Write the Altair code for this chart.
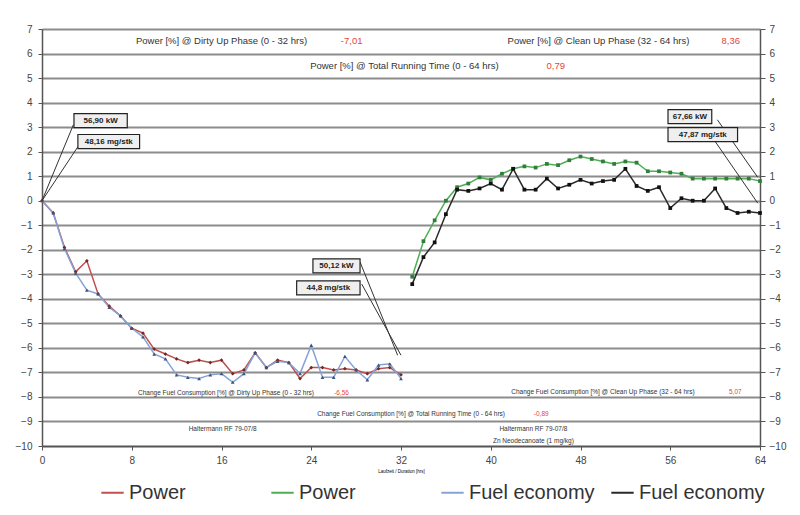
import altair as alt
import pandas as pd

# ---- data ----
hours_dirty = list(range(0, 33))
power_dirty = [0, -0.5, -1.9, -2.9, -2.45, -3.8, -4.3, -4.7, -5.2, -5.4, -6.05, -6.25,
               -6.45, -6.6, -6.5, -6.6, -6.5, -7.05, -6.9, -6.2, -6.8, -6.5, -6.6, -7.25,
               -6.8, -6.8, -6.9, -6.85, -6.9, -7.05, -6.85, -6.8, -7.1]
fuel_dirty = [0, -0.5, -1.95, -2.95, -3.65, -3.8, -4.35, -4.7, -5.2, -5.55, -6.25, -6.45,
              -7.1, -7.2, -7.25, -7.1, -7.05, -7.4, -7.05, -6.2, -6.8, -6.55, -6.6, -7.05,
              -5.9, -7.2, -7.2, -6.35, -6.9, -7.3, -6.7, -6.65, -7.25]
hours_clean = list(range(33, 65))
power_clean = [-3.1, -1.65, -0.8, 0.0, 0.55, 0.7, 0.95, 0.85, 1.1, 1.3, 1.4, 1.35, 1.5,
               1.45, 1.65, 1.8, 1.7, 1.6, 1.5, 1.6, 1.55, 1.2, 1.2, 1.15, 1.1, 0.9, 0.9,
               0.9, 0.9, 0.9, 0.9, 0.8]
fuel_clean = [-3.4, -2.3, -1.7, -0.55, 0.45, 0.4, 0.5, 0.7, 0.45, 1.3, 0.45, 0.45, 0.9,
              0.5, 0.65, 0.85, 0.7, 0.8, 0.85, 1.3, 0.6, 0.4, 0.55, -0.3, 0.1, 0.0, 0.0,
              0.5, -0.3, -0.5, -0.45, -0.5]

series_keys = ["power_dirty", "power_clean", "fuel_dirty", "fuel_clean"]
line_colors = ["#c0504d", "#4fae55", "#86a3d8", "#2a2a2a"]
marker_colors = ["#6b2b28", "#2f7f3a", "#3f5279", "#111111"]
marker_shapes = ["diamond", "square", "triangle-up", "square"]

x_ticks = [0, 8, 16, 24, 32, 40, 48, 56, 64]
y_ticks = list(range(-10, 8))

# annotations
top_texts = ["Power [%] @ Dirty Up Phase (0 - 32 hrs)", "Power [%] @ Clean Up Phase (32 - 64 hrs)",
             "Power [%] @ Total Running Time (0 - 64 hrs)"]
top_text_x = [16, 49.6, 32.3]
top_text_y = [6.5, 6.5, 5.5]
top_vals = ["-7,01", "8,36", "0,79"]
top_val_x = [27.6, 61.4, 45.8]

bot_texts = ["Change Fuel Consumption [%] @ Dirty Up Phase (0 - 32 hrs)",
             "Change Fuel Consumption [%] @ Clean Up Phase (32 - 64 hrs)",
             "Change Fuel Consumption [%] @ Total Running Time (0 - 64 hrs)"]
bot_text_x = [16.4, 50.0, 32.9]
bot_text_y = [-7.85, -7.8, -8.7]
bot_vals = ["-6,56", "5,07", "-0,89"]
bot_val_x = [26.7, 61.8, 44.5]

note_texts = ["Haltermann RF 79-07/8", "Haltermann RF 79-07/8", "Zn Neodecanoate (1 mg/kg)"]
note_x = [16.1, 43.8, 43.8]
note_y = [-9.3, -9.3, -9.8]

box_texts = ["56,90 kW", "48,16 mg/stk", "50,12 kW", "44,8 mg/stk", "67,66 kW", "47,87 mg/stk"]
box_x1 = [2.85, 3.2, 24.15, 22.7, 55.8, 55.8]
box_x2 = [7.6, 8.7, 28.35, 28.35, 59.7, 62.0]
box_y1 = [3.55, 2.7, -2.37, -3.27, 3.71, 2.98]
box_y2 = [2.98, 2.12, -2.94, -3.84, 3.14, 2.41]

lead_x1 = [2.8, 3.2, 28.35, 28.5, 60.2, 59.8]
lead_y1 = [3.1, 2.2, -2.5, -3.4, 3.3, 2.55]
lead_x2 = [0.0, 0.0, 31.7, 32.0, 63.8, 63.8]
lead_y2 = [0.0, 0.0, -6.3, -6.3, 0.95, -0.1]

# ---- tables ----
rows = []
for key, hrs, vals in [("power_dirty", hours_dirty, power_dirty), ("fuel_dirty", hours_dirty, fuel_dirty),
                       ("power_clean", hours_clean, power_clean), ("fuel_clean", hours_clean, fuel_clean)]:
    for h, v in zip(hrs, vals):
        rows.append({"series": key, "marker": key + "_m", "x": h, "y": v})
df = pd.DataFrame(rows)
marker_keys = [k + "_m" for k in series_keys]

txt_df = pd.DataFrame({"x": top_text_x + bot_text_x + note_x,
                       "y": top_text_y + bot_text_y + note_y,
                       "t": top_texts + bot_texts + note_texts,
                       "size": [9.5] * 3 + [6.5] * 3 + [6.5] * 3})
val_df = pd.DataFrame({"x": top_val_x + bot_val_x,
                       "y": top_text_y + bot_text_y,
                       "t": top_vals + bot_vals,
                       "size": [9.5] * 3 + [6.5] * 3})
box_df = pd.DataFrame({"x": box_x1, "x2": box_x2, "y": box_y1, "y2": box_y2, "t": box_texts,
                       "cx": [(a + b) / 2 for a, b in zip(box_x1, box_x2)],
                       "cy": [(a + b) / 2 for a, b in zip(box_y1, box_y2)]})
lead_df = pd.DataFrame({"x": lead_x1, "y": lead_y1, "x2": lead_x2, "y2": lead_y2})

FONT = "Liberation Sans"
xscale = alt.Scale(domain=[0, 64], nice=False, zero=False)
yscale = alt.Scale(domain=[-10, 7], nice=False, zero=False)
xaxis = alt.Axis(values=x_ticks, grid=False, title="Laufzeit / Duration [hrs]", titleFontSize=4.5,
                 titleFontWeight="normal", titlePadding=3, labelFontSize=10, labelColor="#444",
                 labelFont=FONT, titleFont=FONT, tickSize=4, labelPadding=5, domainColor="#555",
                 domainWidth=1.5, tickColor="#555", labelFlush=False)
X = alt.X("x:Q", scale=xscale, axis=xaxis)

legend = alt.Legend(orient="none", legendX=58, legendY=451, direction="horizontal", columns=4,
                    gridAlign="all", columnPadding=12, labelFontSize=20, labelFont=FONT,
                    labelColor="#333", symbolType="stroke", symbolSize=500, symbolStrokeWidth=2,
                    title=None,
                    labelExpr="indexof(datum.value, 'power') == 0 ? 'Power' : 'Fuel economy'")

lines = alt.Chart(df).mark_line(strokeWidth=1.5).encode(
    x=X,
    y=alt.Y("y:Q", scale=yscale,
            axis=alt.Axis(values=y_ticks, grid=True, gridColor="#8c8c8c", gridWidth=2,
                          title=None, labelFontSize=10, labelColor="#444", labelFont=FONT,
                          tickSize=4, labelPadding=6, domainColor="#555", domainWidth=1.5,
                          tickColor="#555", orient="left")),
    color=alt.Color("series:N", scale=alt.Scale(domain=series_keys, range=line_colors), legend=legend),
    detail="series:N",
)

points = alt.Chart(df).mark_point(filled=True, size=14, opacity=1).encode(
    x=X,
    y=alt.Y("y:Q", scale=yscale, axis=None),
    fill=alt.Fill("marker:N", scale=alt.Scale(domain=marker_keys, range=marker_colors), legend=None),
    shape=alt.Shape("marker:N", scale=alt.Scale(domain=marker_keys, range=marker_shapes), legend=None),
)

right_axis = alt.Chart(df).mark_point(opacity=0).encode(
    x=X,
    y=alt.Y("y:Q", scale=yscale,
            axis=alt.Axis(values=y_ticks, grid=False, title=None, labelFontSize=10, labelColor="#444",
                          labelFont=FONT, tickSize=5, labelPadding=4, domainColor="#555",
                          domainWidth=1.5, tickColor="#555", orient="right")),
)

texts = alt.Chart(txt_df).mark_text(font=FONT, color="#333", align="center", baseline="middle").encode(
    x=X, y=alt.Y("y:Q", scale=yscale, axis=None), text="t:N",
    size=alt.Size("size:Q", scale=None, legend=None))

vals = alt.Chart(val_df).mark_text(font=FONT, color="#e5463b", align="center", baseline="middle").encode(
    x=X, y=alt.Y("y:Q", scale=yscale, axis=None), text="t:N",
    size=alt.Size("size:Q", scale=None, legend=None))

leads = alt.Chart(lead_df).mark_rule(color="#333", strokeWidth=1).encode(
    x=X, y=alt.Y("y:Q", scale=yscale, axis=None), x2="x2:Q", y2="y2:Q")

boxes = alt.Chart(box_df).mark_rect(fill="#efefef", stroke="#222", strokeWidth=1.2).encode(
    x=X, x2="x2:Q", y=alt.Y("y:Q", scale=yscale, axis=None), y2="y2:Q")

box_txt = alt.Chart(box_df).mark_text(font=FONT, fontSize=8, fontWeight="bold", color="#222",
                                      align="center", baseline="middle").encode(
    x=alt.X("cx:Q", scale=xscale, axis=xaxis), y=alt.Y("cy:Q", scale=yscale, axis=None), text="t:N")

chart = alt.layer(lines, points, leads, boxes, box_txt, texts, vals, right_axis).resolve_axis(
    y="independent"
).properties(
    width=718, height=417,
    autosize=alt.AutoSizeParams(type="none"),
    padding={"left": 34, "top": 21, "right": 30, "bottom": 60},
    background="white",
).configure_view(stroke=None)

chart.save("out.html", embed_options={"renderer": "svg", "actions": False})
